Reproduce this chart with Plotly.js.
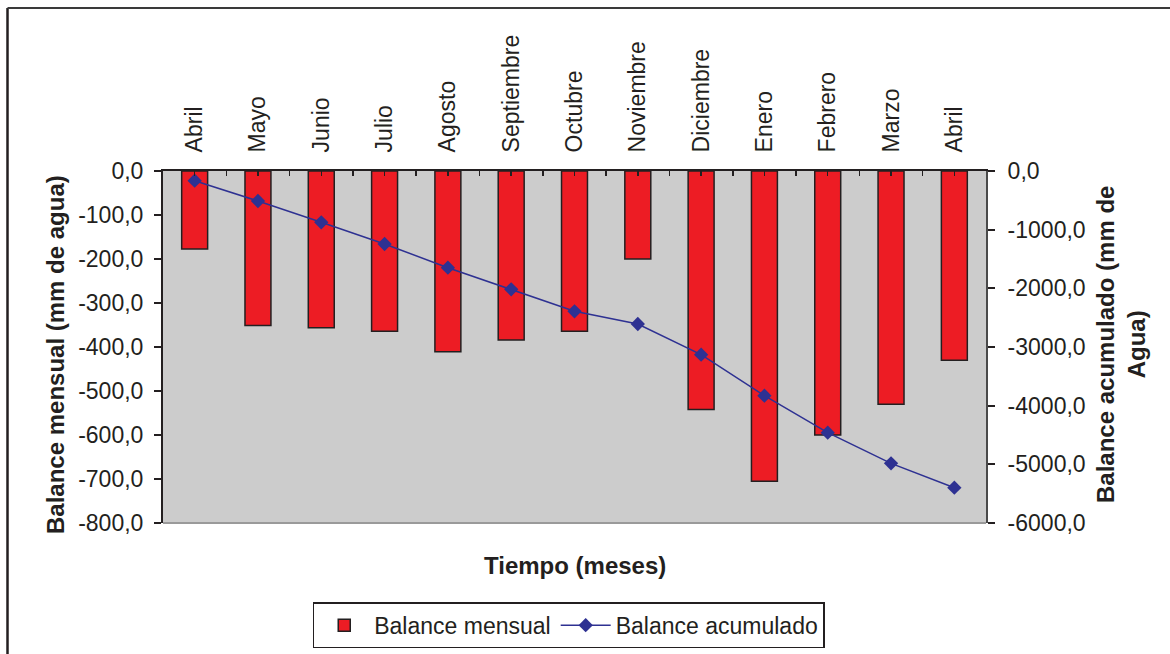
<!DOCTYPE html>
<html>
<head>
<meta charset="utf-8">
<script src="https://cdn.plot.ly/plotly-3.0.1.min.js"></script>
<style>html,body{margin:0;padding:0;background:#fff;}#chart{width:1170px;height:654px;}</style>
</head>
<body>
<div id="chart"></div>
<script>
const months = ["Abril","Mayo","Junio","Julio","Agosto","Septiembre","Octubre","Noviembre","Diciembre","Enero","Febrero","Marzo","Abril"];
const balanceMensual = [-177,-351,-356,-364,-411,-384,-364,-200,-542,-705,-600,-530,-430];
const balanceAcumulado = [-165,-511,-875,-1244,-1648,-2017,-2392,-2608,-3131,-3830,-4460,-4983,-5398];
const leftTicks = [0,-100,-200,-300,-400,-500,-600,-700,-800];
const rightTicks = [0,-1000,-2000,-3000,-4000,-5000,-6000];

const xIdx = months.map((m,i)=>i);
const fmt = v => v.toFixed(1).replace('.', ',');
const FONT = "Liberation Sans, Arial, Helvetica, sans-serif";

const traces = [
  {type:'bar', name:'Balance mensual', x:xIdx, y:balanceMensual, width:0.41,
   marker:{color:'#ED1C24', line:{color:'#231F20', width:1.5}}, yaxis:'y'},
  {type:'scatter', mode:'lines+markers', name:'Balance acumulado', x:xIdx, y:balanceAcumulado,
   line:{color:'#2E3192', width:1.5}, marker:{symbol:'diamond', size:11, color:'#2E3192'}, yaxis:'y2'}
];

const layout = {
  width:1170, height:654,
  margin:{l:163, r:184, t:171, b:131, autoexpand:false},
  paper_bgcolor:'#ffffff', plot_bgcolor:'#cccccc',
  font:{family:FONT, size:23, color:'#231F20'},
  showlegend:true,
  legend:{orientation:'h', x:0.493, xanchor:'center', y:-0.225, yanchor:'top', itemwidth:50,
          bordercolor:'#231F20', borderwidth:1.5, font:{size:23}, bgcolor:'#ffffff'},
  xaxis:{side:'top', range:[-0.5,12.5], tickvals:xIdx, ticktext:months, tickangle:-90,
         ticks:'inside', ticklen:5, tickwidth:1.5, tickcolor:'#231F20',
         minor:{dtick:0.5, tick0:-0.5, ticks:'inside', ticklen:5, tickwidth:1.5, tickcolor:'#231F20'},
         showline:true, linecolor:'#231F20', linewidth:2, showgrid:false, zeroline:false,
         ticklabelstandoff:12, fixedrange:true},
  yaxis:{range:[-800,0], tickvals:leftTicks, ticktext:leftTicks.map(fmt),
         ticks:'outside', ticklen:7, tickwidth:2, tickcolor:'#231F20',
         showline:true, linecolor:'#231F20', linewidth:2, showgrid:false, zeroline:false,
         ticklabelstandoff:6},
  yaxis2:{range:[-6000,0], overlaying:'y', side:'right', tickvals:rightTicks, ticktext:rightTicks.map(fmt),
          ticks:'outside', ticklen:7, tickwidth:2, tickcolor:'#231F20',
          showline:true, linecolor:'#4a4a4a', linewidth:2, showgrid:false, zeroline:false,
          ticklabelstandoff:8},
  annotations:[
    {text:'<b>Tiempo (meses)</b>', xref:'paper', yref:'paper', x:0.5, y:(523-565)/352,
     showarrow:false, font:{size:24}, xanchor:'center', yanchor:'middle'},
    {text:'<b>Balance mensual (mm de agua)</b>', xref:'paper', yref:'paper', x:(55-163)/823, y:(523-355)/352,
     showarrow:false, font:{size:24}, textangle:-90, xanchor:'center', yanchor:'middle'},
    {text:'<b>Balance acumulado (mm de<br>Agua)</b>', xref:'paper', yref:'paper', x:(1121-163)/823, y:(523-345)/352,
     showarrow:false, font:{size:24}, textangle:-90, xanchor:'center', yanchor:'middle'}
  ],
  shapes:[
    {type:'line', xref:'paper', yref:'paper', x0:0, x1:1, y0:0, y1:0, line:{color:'#9a9a9a', width:2}},
    {type:'line', xref:'paper', yref:'paper', x0:(7.5-163)/823, x1:(7.5-163)/823, y0:(523-8)/352, y1:(523-660)/352, line:{color:'#231F20', width:2.5}},
    {type:'line', xref:'paper', yref:'paper', x0:(7.5-163)/823, x1:(1172-163)/823, y0:(523-8)/352, y1:(523-8)/352, line:{color:'#3a3a3a', width:2}}
  ]
};

Plotly.newPlot('chart', traces, layout, {displayModeBar:false, staticPlot:true});
</script>
</body>
</html>
